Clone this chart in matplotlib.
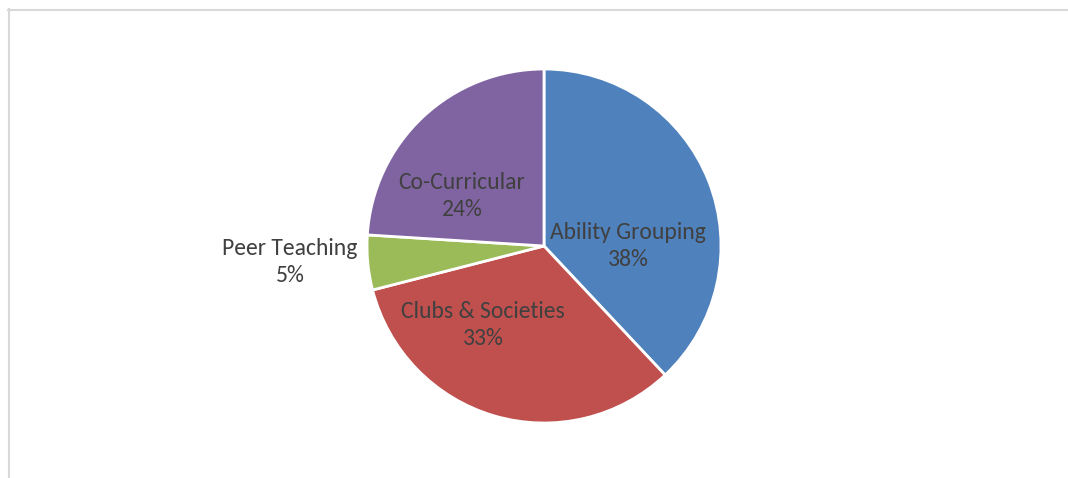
import matplotlib
matplotlib.use("Agg")
import matplotlib.pyplot as plt
from matplotlib.lines import Line2D

categories = ["Ability Grouping", "Clubs & Societies", "Peer Teaching", "Co-Curricular"]
shares = [38, 33, 5, 24]
colors = ["#4F81BD", "#C0504D", "#9BBB59", "#8064A2"]

W, H = 1068, 478

fig = plt.figure(figsize=(W / 100, H / 100), dpi=100)
ax = fig.add_axes([0, 0, 1, 1])
ax.axis("off")

cx, cy, r = 544, H - 246, 177
wedges, _ = ax.pie(shares, colors=colors, startangle=90, counterclock=False,
                   center=(cx, cy), radius=r,
                   wedgeprops=dict(edgecolor="white", linewidth=2))
ax.set_xlim(0, W)
ax.set_ylim(0, H)
ax.set_aspect("equal")

# label anchor points (pixel coords, top-left origin)
label_pos = [(628, 246), (483, 325), (290, 262), (462, 196)]
for name, val, (lx, ly) in zip(categories, shares, label_pos):
    ax.text(lx, H - ly, f"{name}\n{val}%", ha="center", va="center",
            fontsize=17, color="#404040", family=["Carlito", "DejaVu Sans"],
            linespacing=1.4)

# chart area border (top and left edges)
fig.add_artist(Line2D([8.5 / W, 8.5 / W], [0, 1 - 9 / H], transform=fig.transFigure,
                      color="#D9D9D9", linewidth=1.5))
fig.add_artist(Line2D([8 / W, 1], [1 - 9.5 / H, 1 - 9.5 / H], transform=fig.transFigure,
                      color="#D9D9D9", linewidth=1.5))

fig.savefig("out.png", dpi=100)
